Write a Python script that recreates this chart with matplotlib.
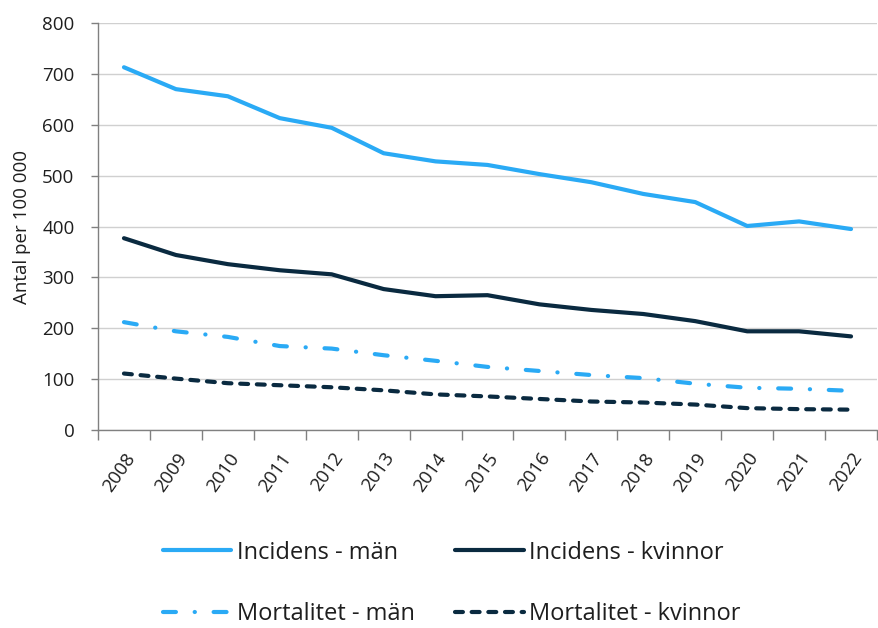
import numpy as np
import matplotlib
matplotlib.use("Agg")
import matplotlib.pyplot as plt

plt.rcParams['font.family'] = ['Open Sans', 'DejaVu Sans']

years = ['2008', '2009', '2010', '2011', '2012', '2013', '2014', '2015',
         '2016', '2017', '2018', '2019', '2020', '2021', '2022']
incidens_man = [713, 670, 656, 613, 594, 544, 528, 521, 503, 487, 464, 448, 401, 410, 395]
incidens_kvinnor = [377, 344, 326, 314, 306, 277, 263, 265, 247, 236, 228, 214, 194, 194, 184]
mortalitet_man = [212, 194, 183, 165, 160, 147, 136, 124, 116, 108, 102, 91, 83, 81, 77]
mortalitet_kvinnor = [111, 101, 92, 88, 84, 78, 70, 66, 61, 56, 54, 50, 43, 41, 40]

ljusbla = '#2aaaf5'
morkbla = '#0a2a40'
textfarg = '#1e1e1e'

fig = plt.figure(figsize=(8.79, 6.28), dpi=100)
ax = fig.add_axes([98/879, 1 - 430/628, 779/879, 407/628])

x = np.arange(len(years))
lw = 3.0
l1, = ax.plot(x, incidens_man, color=ljusbla, lw=lw, solid_capstyle='round', label='Incidens - män')
l2, = ax.plot(x, incidens_kvinnor, color=morkbla, lw=lw, solid_capstyle='round', label='Incidens - kvinnor')
l3, = ax.plot(x, mortalitet_man, color=ljusbla, lw=lw, dash_capstyle='round',
              dashes=(3.1, 4.5, 0.05, 4.5), label='Mortalitet - män')
l4, = ax.plot(x, mortalitet_kvinnor, color=morkbla, lw=lw, dash_capstyle='round',
              dashes=(1.9, 2.1), label='Mortalitet - kvinnor')

ax.set_xlim(-0.5, len(years) - 0.5)
ax.set_ylim(0, 800)
ax.set_yticks(range(0, 801, 100))
ax.set_xticks(x)
ax.set_xticklabels(years, rotation=55, ha='right', rotation_mode='anchor', fontsize=13.5, color=textfarg)
ax.set_xticks(np.arange(-0.5, len(years), 1), minor=True)
ax.tick_params(axis='x', which='major', length=0, pad=14)
ax.tick_params(axis='x', which='minor', length=7, color='#808080', width=1)
ax.tick_params(axis='y', length=5, color='#808080', width=1, labelsize=13.5, labelcolor=textfarg, pad=12)

ax.grid(axis='y', color='#d0d0d0', lw=1)
ax.set_axisbelow(True)
for s in ['top', 'right']:
    ax.spines[s].set_visible(False)
for s in ['left', 'bottom']:
    ax.spines[s].set_color('#808080')
    ax.spines[s].set_linewidth(1)

ax.set_ylabel('Antal per 100 000', fontsize=13.5, color=textfarg, labelpad=8)

# kolumnvis ordning -> rad 1: incidens, rad 2: mortalitet
fig.legend([l1, l3, l2, l4], [l.get_label() for l in [l1, l3, l2, l4]],
           loc='center', bbox_to_anchor=(0.514, 0.071), ncol=2,
           frameon=False, fontsize=17, handlelength=2.9, columnspacing=1.7,
           labelspacing=1.6, handletextpad=0.25, labelcolor=textfarg)

fig.savefig('out.png', dpi=100)
